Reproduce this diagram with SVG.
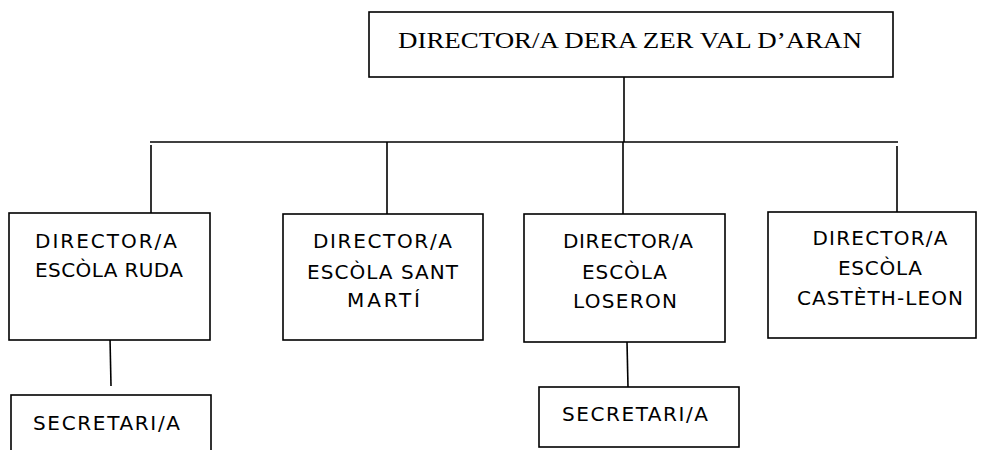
<svg xmlns="http://www.w3.org/2000/svg" width="982" height="450" viewBox="0 0 982 450">
<style>
.box{fill:#fff;stroke:#000;stroke-width:1.6}
.ln{stroke:#000;stroke-width:1.6;fill:none}
.t{font-family:"DejaVu Sans",sans-serif;font-size:20px;fill:#000;text-anchor:middle}
.top{font-family:"Liberation Serif","Times New Roman",serif;font-size:23px;fill:#000}
</style>
<rect width="982" height="450" fill="#fff"/>
<g id="connectors">
<line class="ln" x1="624" y1="77" x2="624" y2="142"/>
<line class="ln" x1="150" y1="142" x2="898" y2="142"/>
<line class="ln" x1="151" y1="145" x2="151" y2="213"/>
<line class="ln" x1="387" y1="142" x2="387" y2="214"/>
<line class="ln" x1="623" y1="142" x2="623" y2="214"/>
<line class="ln" x1="897" y1="146" x2="897" y2="212"/>
<line class="ln" x1="110" y1="338" x2="111" y2="386"/>
<line class="ln" x1="627" y1="342" x2="628" y2="387"/>
</g>
<g id="director-zer">
<rect class="box" x="369" y="12" width="524" height="65"/>
<text class="top" x="398" y="48" textLength="464" lengthAdjust="spacingAndGlyphs">DIRECTOR/A DERA ZER VAL D’ARAN</text>
</g>
<g id="escola-ruda">
<rect class="box" x="9" y="213" width="201" height="127"/>
<text class="t" x="106" y="248" textLength="142">DIRECTOR/A</text>
<text class="t" x="109" y="277" textLength="148">ESCÒLA RUDA</text>
</g>
<g id="escola-sant-marti">
<rect class="box" x="283" y="214" width="200" height="126"/>
<text class="t" x="382.5" y="248" textLength="139">DIRECTOR/A</text>
<text class="t" x="382.5" y="279" textLength="151">ESCÒLA SANT</text>
<text class="t" x="383.5" y="307" textLength="73">MARTÍ</text>
</g>
<g id="escola-loseron">
<rect class="box" x="524" y="214" width="201" height="128"/>
<text class="t" x="628" y="248" textLength="130">DIRECTOR/A</text>
<text class="t" x="624.5" y="279" textLength="85">ESCÒLA</text>
<text class="t" x="625" y="308" textLength="104">LOSERON</text>
</g>
<g id="escola-casteth-leon">
<rect class="box" x="768" y="212" width="208" height="126"/>
<text class="t" x="880" y="245" textLength="135">DIRECTOR/A</text>
<text class="t" x="880" y="275" textLength="84">ESCÒLA</text>
<text class="t" x="880" y="305" textLength="166">CASTÈTH-LEON</text>
</g>
<g id="secretari-ruda">
<rect class="box" x="11" y="395" width="200" height="70"/>
<text class="t" x="106.5" y="430" textLength="147">SECRETARI/A</text>
</g>
<g id="secretari-loseron">
<rect class="box" x="539" y="387" width="200" height="60"/>
<text class="t" x="635" y="421" textLength="146">SECRETARI/A</text>
</g>
</svg>
